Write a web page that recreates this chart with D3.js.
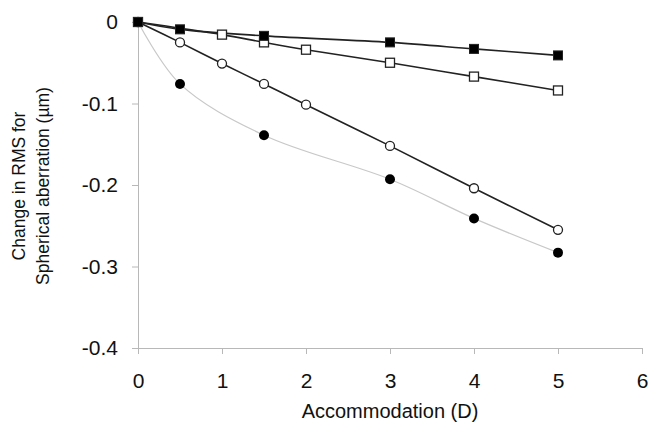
<!DOCTYPE html>
<html>
<head>
<meta charset="utf-8">
<script src="https://cdn.jsdelivr.net/npm/d3@7"></script>
<style>
  body { margin: 0; background: #fff; }
  svg { display: block; font-family: "Liberation Sans", Arial, sans-serif; }
</style>
</head>
<body>
<svg id="chart" width="650" height="424"></svg>
<script>
const accommodation = [0, 0.5, 1, 1.5, 2, 3, 4, 5];
const xTicks = [0, 1, 2, 3, 4, 5, 6];
const yTicks = [0, -0.1, -0.2, -0.3, -0.4];

const filledSquareX = [0, 0.5, 1.5, 3, 4, 5];
const filledSquareY = [0, -0.009, -0.017, -0.025, -0.033, -0.041];

const openSquareX = [0, 1, 1.5, 2, 3, 4, 5];
const openSquareY = [0, -0.0155, -0.025, -0.034, -0.050, -0.067, -0.084];

const openCircleX = [0, 0.5, 1, 1.5, 2, 3, 4, 5];
const openCircleY = [0, -0.025, -0.051, -0.076, -0.1015, -0.152, -0.204, -0.255];

const filledCircleX = [0, 0.5, 1.5, 3, 4, 5];
const filledCircleY = [0, -0.076, -0.139, -0.193, -0.241, -0.283];

const svg = d3.select("#chart");
const x = d3.scaleLinear().domain([0, 6]).range([138, 642]);
const y = d3.scaleLinear().domain([-0.4, 0]).range([348, 22]);
const axisColor = "#b8b8b8";

// Axes
const xAxis = svg.append("g").attr("transform", `translate(0,${y(-0.4)})`)
  .call(d3.axisBottom(x).tickValues(xTicks).tickSize(6).tickPadding(19).tickFormat(d => String(d)));
const yAxis = svg.append("g").attr("transform", `translate(${x(0)},0)`)
  .call(d3.axisLeft(y).tickValues(yTicks).tickSize(6).tickPadding(14).tickFormat(d => d === 0 ? "0" : d.toFixed(1)));
[xAxis, yAxis].forEach(g => {
  g.select(".domain").attr("stroke", axisColor).attr("stroke-width", 1);
  g.selectAll(".tick line").attr("stroke", axisColor);
  g.selectAll(".tick text").attr("fill", "#111").style("font-size", "21px")
    .style("font-family", "'Liberation Sans', Arial, sans-serif");
});
xAxis.selectAll(".tick text").attr("dy", "0.71em");

// Titles
svg.append("text").attr("x", x(3)).attr("y", 418).attr("text-anchor", "middle")
  .style("font-size", "20px").attr("fill", "#111").text("Accommodation (D)");
const yt = svg.append("text").attr("transform", "translate(0,186) rotate(-90)")
  .attr("text-anchor", "middle").style("font-size", "17.5px").attr("fill", "#111");
yt.append("tspan").attr("x", 0).attr("y", 25).text("Change in RMS for");
yt.append("tspan").attr("x", 0).attr("y", 49).text("Spherical aberration (µm)");

const curve = d3.curveCatmullRom.alpha(0.5);
const line = d3.line().x(d => x(d[0])).y(d => y(d[1])).curve(curve);
const zip = (a, b) => a.map((v, i) => [v, b[i]]);

const fc = zip(filledCircleX, filledCircleY);
const oc = zip(openCircleX, openCircleY);
const os = zip(openSquareX, openSquareY);
const fs = zip(filledSquareX, filledSquareY);

svg.append("path").datum(fc).attr("d", line).attr("fill", "none").attr("stroke", "#c8c8c8").attr("stroke-width", 1.2);
svg.append("path").datum(oc).attr("d", line).attr("fill", "none").attr("stroke", "#222").attr("stroke-width", 1.6);
svg.append("path").datum(os).attr("d", line).attr("fill", "none").attr("stroke", "#222").attr("stroke-width", 1.6);
svg.append("path").datum(fs).attr("d", line).attr("fill", "none").attr("stroke", "#222").attr("stroke-width", 1.6);

svg.append("g").selectAll("circle").data(fc).join("circle")
  .attr("cx", d => x(d[0])).attr("cy", d => y(d[1])).attr("r", 5).attr("fill", "#000");
svg.append("g").selectAll("circle").data(oc).join("circle")
  .attr("cx", d => x(d[0])).attr("cy", d => y(d[1])).attr("r", 4.5).attr("fill", "#fff").attr("stroke", "#222").attr("stroke-width", 1.3);
const sq = 9;
svg.append("g").selectAll("rect").data(os).join("rect")
  .attr("x", d => x(d[0]) - sq / 2).attr("y", d => y(d[1]) - sq / 2).attr("width", sq).attr("height", sq)
  .attr("fill", "#fff").attr("stroke", "#222").attr("stroke-width", 1.3);
svg.append("g").selectAll("rect").data(fs).join("rect")
  .attr("x", d => x(d[0]) - sq / 2).attr("y", d => y(d[1]) - sq / 2).attr("width", sq).attr("height", sq)
  .attr("fill", "#000").attr("stroke", "#222").attr("stroke-width", 1);
</script>
</body>
</html>
